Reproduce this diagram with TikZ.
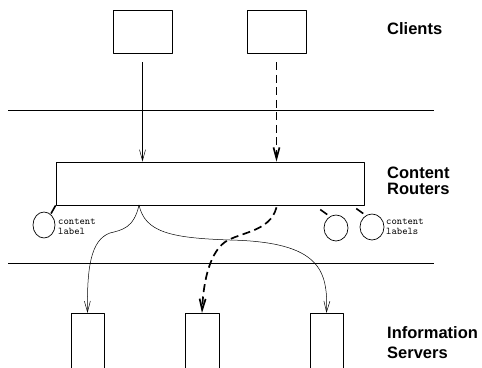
\documentclass[tikz,border=0pt]{standalone}
\usepackage{fontspec}
\setmainfont{Liberation Sans}
\usetikzlibrary{arrows.meta,shapes.geometric}

\begin{document}
\begin{tikzpicture}[x=1pt,y=-1pt,line join=round,
	>={Straight Barb[length=11pt,width=6pt]},
	box/.style={draw,line width=0.7pt,inner sep=0pt},
	holder/.style={draw,ellipse,line width=0.7pt,inner sep=0pt,minimum width=22pt,minimum height=26pt},
	tick/.style={line width=1.6pt},
	flow/.style={->,line width=0.5pt},
	query/.style={->,line width=1.7pt,dash pattern=on 8pt off 4.5pt},
	tier/.style={anchor=base west,align=left,inner sep=0pt,font=\fontsize{16.5}{16}\selectfont\bfseries},
	tag/.style={anchor=base west,align=left,inner sep=0pt,font=\fontsize{10.2}{10}\selectfont\ttfamily}]
	\clip (0,0) rectangle (482,367);
	% tiers
	\draw [line width=0.7pt] (8,110)-- (434,110);
	\draw [line width=0.7pt] (8,263)-- (434,263);
	\node[box,minimum width=59pt,minimum height=43pt] (client1) at (142.5,31.5) {};
	\node[box,minimum width=59pt,minimum height=43pt] (client2) at (276.5,31.5) {};
	\node[box,minimum width=308pt,minimum height=43pt] (router) at (210,183.5) {};
	\node[box,minimum width=33pt,minimum height=80pt,anchor=north] (server1) at (87.5,313) {};
	\node[box,minimum width=34pt,minimum height=80pt,anchor=north] (server2) at (202,313) {};
	\node[box,minimum width=33pt,minimum height=80pt,anchor=north] (server3) at (326.5,313) {};
	% content labels
	\node[holder] (cl1) at (44,225) {};
	\node[holder,minimum width=24pt] (cl2) at (336,228) {};
	\node[holder,minimum width=24pt] (cl3) at (372,227) {};
	\draw [tick] ([shift={(-1pt,2pt)}]cl1.north east)-- (router.south west);
	\draw [tick] ([yshift=4pt]cl2.north west)-- ++(-7,-5);
	\draw [tick] ([yshift=4pt]cl3.north west)-- ++(-7,-5);
	\node[tag] (cl1text) at (58,234.5) {content\\label};
	\node[tag] (cl3text) at (386,234.5) {content\\labels};
	% requests
	\draw [flow] ([yshift=-9pt]client1.south)-- (router.north -| client1);
	\draw [query] ([yshift=-9pt]client2.south)-- (router.north -| client2);
	\coordinate (split) at (139,205);
	\draw [flow] (split) .. controls (134,228) and (122,230) .. (110,233)
		.. controls (90,240) and (87,270) .. (server1.north);
	\draw [flow] (split) .. controls (145,232) and (170,238) .. (230,240)
		.. controls (320,242) and (328,270) .. (server3.north);
	\draw [query] ([yshift=-2pt]router.south -| client2) .. controls (270,232) and (240,232) .. (225,242)
		.. controls (207,255) and (203,290) .. (server2.north);
	% tier names
	\node[tier] (clients) at (387,34) {Clients};
	\node[tier] (routers) at (387,194) {Content\\Routers};
	\node[tier] (servers) at (387,358) {Information\\[4pt]Servers};
\end{tikzpicture}
\end{document}
